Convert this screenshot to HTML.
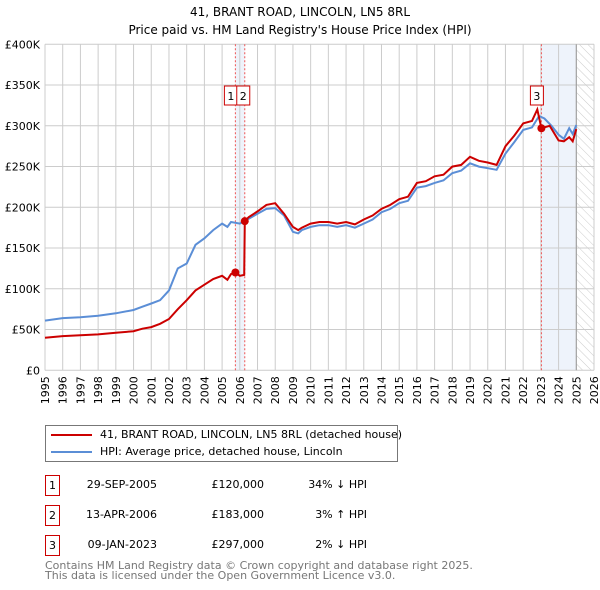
<!DOCTYPE html>
<html><head><meta charset="utf-8"><style>
body{margin:0;background:#fff;font-family:"DejaVu Sans","Liberation Sans",sans-serif;}
#w{position:relative;width:600px;height:590px;overflow:hidden;}
.t{position:absolute;font-size:11px;color:#000;white-space:nowrap;}
.box{position:absolute;width:13px;height:19px;border:1px solid #c00;font-size:11px;text-align:center;line-height:19px;}
</style></head><body><div id="w">
<svg id="c" width="600" height="420" style="position:absolute;left:0;top:0"></svg>
<div style="position:absolute;left:45px;top:425px;width:351px;height:35px;border:1px solid #777;">
 <div style="position:absolute;left:5px;top:8px;width:41px;height:2px;background:#c00"></div>
 <div class="t" style="left:54px;top:2px">41, BRANT ROAD, LINCOLN, LN5 8RL (detached house)</div>
 <div style="position:absolute;left:5px;top:25px;width:41px;height:2px;background:#5b8ed6"></div>
 <div class="t" style="left:54px;top:19px">HPI: Average price, detached house, Lincoln</div>
</div>
<div id="tbl"></div>
<div class="t" style="left:45px;top:559px;color:#777">Contains HM Land Registry data © Crown copyright and database right 2025.</div>
<div class="t" style="left:45px;top:569px;color:#777">This data is licensed under the Open Government Licence v3.0.</div>
</div>
<script>
const hpiX=[1995,1996,1997,1998,1999,2000,2000.5,2001,2001.5,2002,2002.5,2003,2003.5,2004,2004.5,2005,2005.3,2005.5,2006,2006.5,2007,2007.5,2008,2008.5,2009,2009.3,2009.5,2010,2010.5,2011,2011.5,2012,2012.5,2013,2013.5,2014,2014.5,2015,2015.5,2016,2016.5,2017,2017.5,2018,2018.5,2019,2019.5,2020,2020.5,2021,2021.5,2022,2022.5,2022.9,2023.2,2023.6,2024,2024.3,2024.6,2024.8,2025];
const hpiV=[61,64,65,67,70,74,78,82,86,98,125,131,154,162,172,180,176,182,180,186,192,198,199,190,170,168,172,176,178,178,176,178,175,180,185,194,198,205,208,224,226,230,233,242,245,254,250,248,246,266,280,295,298,312,309,300,289,284,297,290,301];
const redX=[1995,1996,1997,1998,1999,2000,2000.5,2001,2001.5,2002,2002.5,2003,2003.5,2004,2004.5,2005,2005.3,2005.5,2005.75,2006,2006.25,2006.28,2006.5,2007,2007.5,2008,2008.5,2009,2009.3,2009.5,2010,2010.5,2011,2011.5,2012,2012.5,2013,2013.5,2014,2014.5,2015,2015.5,2016,2016.5,2017,2017.5,2018,2018.5,2019,2019.5,2020,2020.5,2021,2021.5,2022,2022.5,2022.8,2023.03,2023.5,2024,2024.3,2024.6,2024.8,2025];
const redV=[40,42,43,44,46,48,51,53,57,63,75,86,98,105,112,116,111,118,120,116,117,183,188,195,203,205,192,176,172,175,180,182,182,180,182,179,185,190,198,203,210,213,230,232,238,240,250,252,262,257,255,252,275,288,303,306,320,297,300,282,281,286,281,296];
const sales=[[2005.75,120],[2006.28,183],[2023.03,297]];
const yTicks=[0,50,100,150,200,250,300,350,400];
const yLabels=["£0","£50K","£100K","£150K","£200K","£250K","£300K","£350K","£400K"];
const rows=[["1","29-SEP-2005","£120,000","34% ↓ HPI"],["2","13-APR-2006","£183,000","3% ↑ HPI"],["3","09-JAN-2023","£297,000","2% ↓ HPI"]];
const X0=45,X1=594,Y0=370.3,Y1=44.3;
const sx=y=>X0+(y-1995)*(X1-X0)/31, sy=v=>Y0-v*(Y0-Y1)/400;
const svg=document.getElementById('c'),NS='http://www.w3.org/2000/svg';
function mk(t,a,p){const e=document.createElementNS(NS,t);for(const k in a)e.setAttribute(k,a[k]);(p||svg).appendChild(e);return e;}
let e;
e=mk('text',{x:300,y:16,'text-anchor':'middle','font-size':'12','font-family':'DejaVu Sans,sans-serif'});e.textContent='41, BRANT ROAD, LINCOLN, LN5 8RL';


e=mk('text',{x:300,y:34,'text-anchor':'middle','font-size':'12','font-family':'DejaVu Sans,sans-serif'});e.textContent="Price paid vs. HM Land Registry's House Price Index (HPI)";


// shading
e=mk('rect',{x:sx(sales[0][0]),y:Y1,width:sx(sales[1][0])-sx(sales[0][0]),height:Y0-Y1,fill:'#eef3fb'});


e=mk('rect',{x:sx(2023.03),y:Y1,width:sx(2025)-sx(2023.03),height:Y0-Y1,fill:'#eef3fb'});


const defs=mk('defs',{});const pat=mk('pattern',{id:'h',width:6,height:6,patternUnits:'userSpaceOnUse',patternTransform:'rotate(-45)'},defs);
mk('line',{x1:0,y1:0,x2:0,y2:6,stroke:'#ccc','stroke-width':1},pat);
e=mk('rect',{x:sx(2025),y:Y1,width:X1-sx(2025),height:Y0-Y1,fill:'url(#h)'});


for(let y=1995;y<=2026;y++){e=mk('line',{x1:sx(y),x2:sx(y),y1:Y1,y2:Y0,stroke:'#ccc','stroke-width':1});


e=mk('text',{x:0,y:0,'font-size':'11','font-family':'DejaVu Sans,sans-serif','text-anchor':'end',transform:`translate(${sx(y)+4},${Y0+6}) rotate(-90)`});e.textContent=y;

}
yTicks.forEach((v,i)=>{e=mk('line',{x1:X0,x2:X1,y1:sy(v),y2:sy(v),stroke:'#ccc','stroke-width':1});


e=mk('text',{x:40,y:sy(v)+4,'text-anchor':'end','font-size':'11','font-family':'DejaVu Sans,sans-serif'});e.textContent=yLabels[i];

});
e=mk('line',{x1:sx(2025),x2:sx(2025),y1:Y1,y2:Y0,stroke:'#999','stroke-width':1});


sales.forEach(s=>{e=mk('line',{x1:sx(s[0]),x2:sx(s[0]),y1:Y1,y2:Y0,stroke:'#e55','stroke-width':1,'stroke-dasharray':'2,2'});

});
const pts=(xs,vs)=>xs.map((x,i)=>sx(x).toFixed(1)+','+sy(vs[i]).toFixed(1)).join(' ');
e=mk('polyline',{points:pts(hpiX,hpiV),fill:'none',stroke:'#5b8ed6','stroke-width':2});


e=mk('polyline',{points:pts(redX,redV),fill:'none',stroke:'#c00','stroke-width':2});


sales.forEach(s=>{e=mk('circle',{cx:sx(s[0]),cy:sy(s[1]),r:4,fill:'#c00'});

});
const labs=[[sx(sales[0][0])-11,'1'],[sx(sales[1][0])-8,'2'],[sx(sales[2][0])-11,'3']];
labs.forEach(l=>{const g=mk('g',{});


mk('rect',{x:l[0],y:86,width:13,height:19,fill:'#fff',stroke:'#c00','stroke-width':1},g);
const t=mk('text',{x:l[0]+6.5,y:100,'text-anchor':'middle','font-size':'11','font-family':'DejaVu Sans,sans-serif'},g);t.textContent=l[1];});
const tb=document.getElementById('tbl');
rows.forEach((r,i)=>{const top=475+i*30;
let d=document.createElement('div');d.className='box';d.style.left='45px';d.style.top=top+'px';d.textContent=r[0];

tb.appendChild(d);
[[157,r[1],'sale-date'],[264,r[2],'sale-price'],[367,r[3],'sale-hpi-diff']].forEach(c=>{let s=document.createElement('div');s.className='t';
s.style.right=(600-c[0])+'px';s.style.top=(top+3)+'px';s.textContent=c[1];

tb.appendChild(s);});});
</script></body></html>
